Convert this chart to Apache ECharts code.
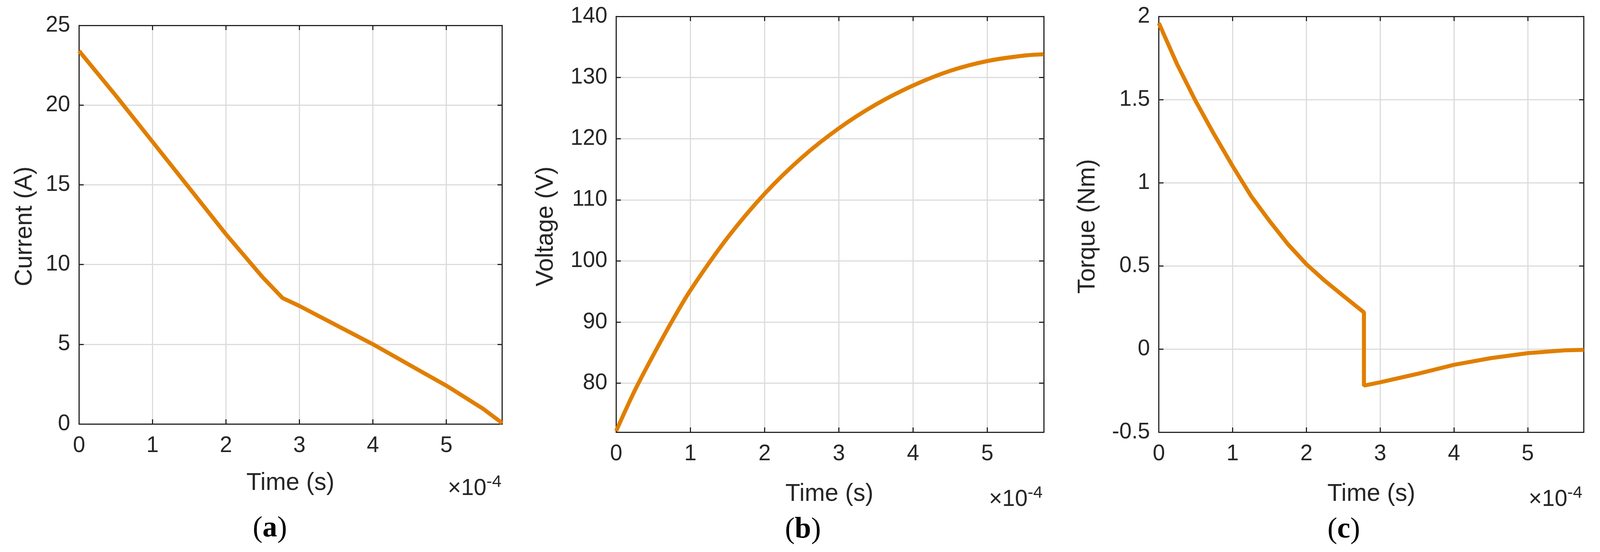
<!DOCTYPE html>
<html>
<head>
<meta charset="utf-8">
<script src="https://cdn.jsdelivr.net/npm/echarts@6/dist/echarts.min.js"></script>
<style>html,body{margin:0;padding:0;background:#fff;overflow:hidden}#c{width:100vw;height:100vh}</style>
</head>
<body>
<div id="c"></div>
<script>
// time in units of 1e-4 s
const timeA = [0, 0.5, 1, 1.5, 2, 2.5, 2.77, 3, 3.5, 4, 4.5, 5, 5.5, 5.76]
const current = [23.4, 20.6, 17.7, 14.8, 11.9, 9.2, 7.9, 7.4, 6.2, 5.0, 3.7, 2.4, 0.95, 0.05]
const timeB = [0, 0.25, 0.5, 0.75, 1, 1.5, 2, 2.5, 3, 3.5, 4, 4.5, 5, 5.5, 5.76]
const voltage = [72.2, 78.8, 84.6, 90.1, 95.2, 103.8, 111.0, 116.9, 121.7, 125.6, 128.7, 131.1, 132.7, 133.6, 133.8]
const timeC = [0, 0.25, 0.5, 0.75, 1, 1.25, 1.5, 1.75, 2, 2.25, 2.5, 2.78, 2.78, 3, 3.5, 4, 4.5, 5, 5.5, 5.76]
const torque = [1.96, 1.71, 1.49, 1.29, 1.10, 0.92, 0.77, 0.63, 0.51, 0.41, 0.32, 0.22, -0.22, -0.20, -0.15, -0.095, -0.055, -0.025, -0.008, -0.005]
const voltTicks = [80, 90, 100, 110, 120, 130, 140]

const dom = document.getElementById('c')
const sx = dom.clientWidth / 4352, sy = dom.clientHeight / 1414, fs = Math.min(sx, sy)

const panels = [
  { t: timeA, v: current, grid: [215, 65, 1151, 1021], ymin: 0, ymax: 25, yint: 5, name: 'Current (A)', nx: 68, tx: 790, ty: 1238, ex: 1364, ey: 1252, tag: 'a', gx: 734, gy: 1355 },
  { t: timeB, v: voltage, grid: [1676, 42, 1163, 1065], ymin: 72, ymax: 140, yint: 10, name: 'Voltage (V)', nx: 1485, tx: 2256, ty: 1266, ex: 2836, ey: 1280, tag: 'b', gx: 2184, gy: 1358 },
  { t: timeC, v: torque, grid: [3152, 42, 1156, 1065], ymin: -0.5, ymax: 2, yint: 0.5, name: 'Torque (Nm)', nx: 2959, tx: 3730, ty: 1266, ex: 4304, ey: 1280, tag: 'c', gx: 3655, gy: 1358 }
]

const font = 'Liberation Sans, Arial, sans-serif'
const lineCol = '#262626'
const grids = [], xAxis = [], yAxis = [], series = [], graphic = []

panels.forEach((p, i) => {
  grids.push({ left: p.grid[0] * sx, top: p.grid[1] * sy, width: p.grid[2] * sx, height: p.grid[3] * sy })
  const common = {
    gridIndex: i,
    axisLine: { show: true, onZero: false, lineStyle: { color: lineCol, width: 3 } },
    axisTick: { show: true, inside: true, length: 12, lineStyle: { color: lineCol, width: 3 } }
  }
  const yExtra = p.tag === 'b' ? { startValue: 80 } : {}
  const tickCustom = p.tag === 'b' ? { customValues: voltTicks } : {}
  xAxis.push(Object.assign({}, common, {
    type: 'value', min: 0, max: 5.76, interval: 1, position: 'bottom',
    axisLabel: { fontSize: 60 * fs, color: lineCol, fontFamily: font, margin: 30 * fs, showMaxLabel: false },
    splitLine: { show: true, lineStyle: { color: '#dcdcdc', width: 3 } }
  }))
  xAxis.push(Object.assign({}, common, {
    type: 'value', min: 0, max: 5.76, interval: 1, position: 'top',
    axisLabel: { show: false }, splitLine: { show: false }
  }))
  yAxis.push(Object.assign({}, common, yExtra, {
    type: 'value', min: p.ymin, max: p.ymax, interval: p.yint, position: 'left',
    axisTick: Object.assign({}, common.axisTick, tickCustom),
    axisLabel: Object.assign({ fontSize: 60 * fs, color: lineCol, fontFamily: font, margin: 24 * fs }, tickCustom),
    splitLine: { show: true, lineStyle: { color: '#dcdcdc', width: 3 } }
  }))
  yAxis.push(Object.assign({}, common, yExtra, {
    type: 'value', min: p.ymin, max: p.ymax, interval: p.yint, position: 'right',
    axisTick: Object.assign({}, common.axisTick, tickCustom),
    axisLabel: { show: false }, splitLine: { show: false }
  }))
  series.push({
    type: 'line', xAxisIndex: 2 * i, yAxisIndex: 2 * i,
    data: p.t.map((t, k) => [t, p.v[k]]),
    smooth: p.tag === 'b' ? 0.3 : false, showSymbol: false,
    lineStyle: { color: '#e07f00', width: 11 * fs }
  })
  graphic.push(
    { type: 'text', x: p.nx * sx, y: 580 * sy, rotation: Math.PI / 2,
      style: { text: p.name, fontSize: 66 * fs, fontFamily: font, fill: lineCol, align: 'center', verticalAlign: 'middle' } },
    { type: 'text', x: p.tx * sx, y: p.ty * sy,
      style: { text: 'Time (s)', fontSize: 66 * fs, fontFamily: font, fill: lineCol, align: 'center', verticalAlign: 'middle' } },
    { type: 'text', x: p.ex * sx, y: p.ey * sy,
      style: { text: '{a|×10}{b|-4}', align: 'right', verticalAlign: 'middle',
        rich: { a: { fontSize: 62 * fs, fontFamily: font, fill: lineCol }, b: { fontSize: 46 * fs, fontFamily: font, fill: lineCol, verticalAlign: 'top', padding: [0, 0, 36 * fs, 0] } } } },
    { type: 'text', x: p.gx * sx, y: p.gy * sy,
      style: { text: '{p|(}{l|' + p.tag + '}{p|)}', align: 'center', verticalAlign: 'middle',
        rich: { p: { fontSize: 80 * fs, fontFamily: 'Liberation Serif, serif', fill: '#000' }, l: { fontSize: 80 * fs, fontWeight: 'bold', fontFamily: 'Liberation Serif, serif', fill: '#000' } } } }
  )
})

const chart = echarts.init(dom)
chart.setOption({ animation: false, grid: grids, xAxis, yAxis, series, graphic })
</script>
</body>
</html>
